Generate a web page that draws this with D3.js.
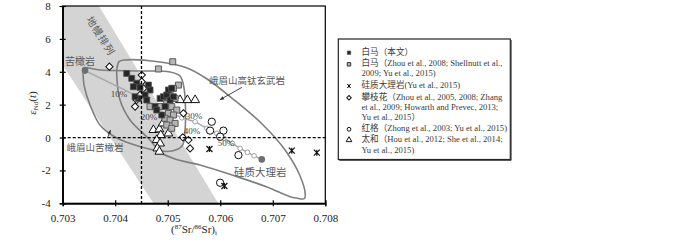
<!DOCTYPE html>
<html><head><meta charset="utf-8">
<script src="https://cdn.jsdelivr.net/npm/d3@7"></script>
<style>
html,body{margin:0;padding:0;background:#fff;}
svg text{font-family:"Liberation Serif","Noto Sans CJK SC",serif;}
.cjk{font-family:"Noto Sans CJK SC","Liberation Serif",sans-serif;}
</style></head>
<body><svg id="c" width="700" height="243"></svg>
<script>
// ---------- data ----------
const xTicks = [0.703, 0.704, 0.705, 0.706, 0.707, 0.708];
const yTicks = [-4, -2, 0, 2, 4, 6, 8];
const xTickLabels = ["0.703", "0.704", "0.705", "0.706", "0.707", "0.708"];
const yTickLabels = ["-4", "-2", "0", "2", "4", "6", "8"];

// mantle array band
const mantleArray = [[0.703, 8], [0.70369, 8], [0.70596, -4], [0.70473, -4], [0.703, 4.4]];

// Emeishan high-Ti basalt field
const highTiField = [[0.704034,4.2],[0.704072,4.62],[0.704187,4.72],[0.704853,4.59],[0.705368,4.23],[0.705749,3.56],[0.706244,2.34],[0.706797,0.82],[0.707234,-0.76],[0.70752,-2.34],[0.70762,-3.5],[0.70760,-3.72],[0.70745,-3.68],[0.70733,-3.6],[0.706891,-3.01],[0.706282,-2.34],[0.705615,-1.67],[0.705139,-1.31],[0.704853,-0.88],[0.704663,-0.15],[0.704282,1.07],[0.704091,2.28],[0.704034,3.5]];
// Emeishan picrite field
const picriteField = [[0.703387,4.23],[0.70371,4.11],[0.704472,4.05],[0.705044,3.99],[0.705234,3.74],[0.70531,3.01],[0.70533,0.46],[0.705272,-0.52],[0.705082,-0.82],[0.704853,-0.82],[0.704434,-0.52],[0.703996,0.03],[0.70371,0.76],[0.70352,1.98],[0.703406,3.19],[0.703387,3.99]];

// end members
const picrite = [0.703425, 4.07];
const marble = [0.70679, -1.33];
// mixing ticks
const mixTicks = [[0.705267,1.20],[0.705521,0.96],[0.705743,0.56],[0.705933,0.25],[0.706073,-0.05],[0.706232,-0.36],[0.706378,-0.66],[0.706517,-0.90],[0.706644,-1.11]];
const mixLabels = ["10%", "20%", "30%", "40%", "50%"];
const mixLabelPos = [[0.704074,2.59],[0.704644,1.19],[0.705501,1.25],[0.705463,0.34],[0.706111,-0.39]];

// samples
const baimaThis = [[0.704219,3.9],[0.704314,3.6],[0.704409,3.3],[0.704346,3.09],[0.704473,3.05],[0.704632,3.19],[0.704663,2.89],[0.704568,2.59],[0.704441,2.38],[0.704378,2.48],[0.7046,2.28],[0.704759,1.88],[0.704854,2.38],[0.704917,2.48],[0.704981,2.59],[0.705013,2.89],[0.705044,2.28],[0.704949,1.88],[0.704886,1.37],[0.70479,1.67],[0.705076,2.99],[0.705108,2.48]];
const baimaLit = [[0.705095,4.61],[0.704822,4.17],[0.705203,3.19],[0.705108,2.99],[0.705044,2.69],[0.70514,2.38],[0.704981,2.08],[0.704854,1.88],[0.704663,1.88],[0.705076,1.88],[0.705171,1.67],[0.705013,1.47],[0.705108,1.37],[0.704949,1.17],[0.705044,1.06],[0.70514,0.86],[0.704981,0.76],[0.705076,0.56]];
const marbleSamples = [[0.705794,-0.70],[0.706079,-2.95],[0.707362,-0.80],[0.707838,-0.92]];
const panzhihua = [[0.703889,4.31],[0.704505,3.8],[0.704505,3.4],[0.704537,2.99],[0.704473,2.6],[0.704409,2.28],[0.704378,1.88],[0.705298,1.47],[0.705286,0.01],[0.705394,-0.15],[0.705425,-0.66]];
const hongge = [[0.705838,0.96],[0.705806,0.42],[0.70606,0.42],[0.705997,0.05],[0.706346,-1.07],[0.705997,-2.75]];
const taihe = [[0.705235,2.28],[0.705375,2.28],[0.705521,2.28],[0.704727,0.46],[0.704841,0.5],[0.704867,0.15],[0.705013,0.25],[0.70479,-0.15],[0.704854,-0.36],[0.704803,-0.66],[0.704841,-0.86],[0.704905,0.86]];

const legendLines = [
  ["白马（本文）", "dark"],
  ["白马（Zhou et al., 2008; Shellnutt et al.,", "gray"],
  ["2009; Yu et al., 2015)", null],
  ["硅质大理岩(Yu et al., 2015)", "star"],
  ["攀枝花（Zhou et al., 2005, 2008;  Zhang", "diamond"],
  ["et al., 2009; Howarth and Prevec, 2013;", null],
  [" Yu et al., 2015）", null],
  ["红格（Zhong et al., 2003; Yu et al., 2015)", "circle"],
  ["太和（Hou et al., 2012; She et al., 2014;", "triangle"],
  ["  Yu et al., 2015)", null]
];

// ---------- drawing ----------
const svg = d3.select("#c");
const X0 = 62.7, X1 = 325.3, Y0 = 203.3, Y1 = 6;
const x = d3.scaleLinear().domain([0.703, 0.708]).range([X0, X1]);
const y = d3.scaleLinear().domain([-4, 8]).range([Y0, Y1]);
const line = d3.line().x(d => x(d[0])).y(d => y(d[1]));
const smooth = d3.line().x(d => x(d[0])).y(d => y(d[1])).curve(d3.curveCatmullRomClosed.alpha(0.5));

const defs = svg.append("defs");
defs.append("clipPath").attr("id","clip").append("rect").attr("x",X0).attr("y",Y1).attr("width",X1-X0).attr("height",Y0-Y1);
defs.append("marker").attr("id","arr").attr("viewBox","0 0 10 10").attr("refX",9).attr("refY",5)
  .attr("markerWidth",5).attr("markerHeight",5).attr("orient","auto")
  .append("path").attr("d","M0,1 L10,5 L0,9 z").attr("fill","#333");

const plot = svg.append("g").attr("clip-path","url(#clip)");
plot.append("path").datum(mantleArray).attr("d", d => line(d) + "Z").attr("fill","#d4d4d4");

// dashed ref lines
svg.append("line").attr("x1",x(0.703)).attr("x2",x(0.708)).attr("y1",y(0)).attr("y2",y(0))
  .attr("stroke","#000").attr("stroke-width",1.3).attr("stroke-dasharray","3,2");
svg.append("line").attr("x1",x(0.7045)).attr("x2",x(0.7045)).attr("y1",y(8)).attr("y2",y(-4))
  .attr("stroke","#000").attr("stroke-width",1.3).attr("stroke-dasharray","3,2");

// fields
plot.append("path").datum(highTiField).attr("d", smooth).attr("fill","none").attr("stroke","#7f7f7f").attr("stroke-width",1.6);
plot.append("path").datum(picriteField).attr("d", smooth).attr("fill","none").attr("stroke","#7f7f7f").attr("stroke-width",1.6);

// mixing line
const mixPath = [picrite].concat(mixTicks).concat([marble]);
plot.append("path").datum(mixPath).attr("d", line).attr("fill","none").attr("stroke","#a6a6a6").attr("stroke-width",1.4);
plot.selectAll(".mt").data(mixTicks).join("circle").attr("cx",d=>x(d[0])).attr("cy",d=>y(d[1])).attr("r",2.3)
  .attr("fill","#fff").attr("stroke","#a0a0a0").attr("stroke-width",1);

// symbols
const sq = d3.symbol().type(d3.symbolSquare).size(36)();
const sqS = d3.symbol().type(d3.symbolSquare).size(12)();
const dia = d3.symbol().type(d3.symbolSquare).size(26)();
const diaS = d3.symbol().type(d3.symbolSquare).size(10)();
const tri = d3.symbol().type(d3.symbolTriangle).size(34)();
const triS = d3.symbol().type(d3.symbolTriangle).size(14)();
const starP = s => `M${-s},${-s}L${s},${s}M${s},${-s}L${-s},${s}M0,${-s}L0,${s}`;

function pts(data, path, fill, stroke, sw, rot) {
  plot.append("g").selectAll("path").data(data).join("path")
    .attr("d", path).attr("transform", d => `translate(${x(d[0])},${y(d[1])})` + (rot ? ` rotate(${rot})` : ""))
    .attr("fill", fill).attr("stroke", stroke).attr("stroke-width", sw);
}
pts(panzhihua, dia, "#fff", "#111", 1, 45);
pts(taihe, tri, "#fff", "#111", 1, 0);
pts(baimaLit, sq, "#b5b5b5", "#595959", 1, 0);
pts(baimaThis, sq, "#262626", "#555", 0.8, 0);
pts(hongge, d3.symbol().type(d3.symbolCircle).size(42)(), "#fff", "#111", 1, 0);
pts(marbleSamples, starP(3), "none", "#111", 1.2, 0);

// end-member dots
plot.selectAll(".em").data([picrite, marble]).join("circle").attr("cx",d=>x(d[0])).attr("cy",d=>y(d[1])).attr("r",3.3).attr("fill","#6e6e6e");

// mix labels
svg.selectAll(".ml").data(mixLabels).join("text").attr("x",(d,i)=>x(mixLabelPos[i][0])).attr("y",(d,i)=>y(mixLabelPos[i][1]))
  .attr("text-anchor","middle").attr("dominant-baseline","middle").attr("font-size",9).attr("fill","#444").text(d=>d);

// annotations
function note(txt, xv, yv, fs, rot) {
  return svg.append("text").attr("class","cjk")
    .attr("transform", `translate(${x(xv)},${y(yv)})` + (rot ? ` rotate(${rot})` : ""))
    .attr("text-anchor","middle").attr("dominant-baseline","middle")
    .attr("font-size",fs).attr("fill","#5a5a5a").text(txt);
}
note("苦橄岩", 0.70333, 4.6, 10);
note("地幔排列", 0.70371, 6.15, 10, 58).attr("letter-spacing",1);
note("峨眉山高钛玄武岩", 0.706511, 3.44, 9.5);
svg.append("line").attr("x1",x(0.706411)).attr("y1",y(3.05)).attr("x2",x(0.705995)).attr("y2",y(2.3)).attr("stroke","#333").attr("stroke-width",0.9).attr("marker-end","url(#arr)");
note("峨眉山苦橄岩", 0.703617, -0.64, 9.5);
svg.append("line").attr("x1",x(0.70385)).attr("y1",y(-0.05)).attr("x2",x(0.70391)).attr("y2",y(0.45)).attr("stroke","#333").attr("stroke-width",0.9).attr("marker-end","url(#arr)");
note("硅质大理岩", 0.70676, -2.16, 10.5);

// frame
svg.append("rect").attr("x",X0).attr("y",Y1).attr("width",X1-X0).attr("height",Y0-Y1).attr("fill","none").attr("stroke","#000").attr("stroke-width",1.2);

// axes
svg.append("g").attr("transform",`translate(0,${Y0})`)
  .call(d3.axisBottom(x).tickValues(xTicks).tickFormat((d,i)=>xTickLabels[i]).tickSize(3).tickPadding(8));
svg.append("g").attr("transform",`translate(0,${Y0})`).call(d3.axisTop(x).tickValues(xTicks).tickFormat("").tickSize(3));
svg.append("g").attr("transform",`translate(${X0},0)`)
  .call(d3.axisLeft(y).tickValues(yTicks).tickFormat(d=>yTickLabels[yTicks.indexOf(d)]).tickSize(3).tickPadding(9));
svg.append("g").attr("transform",`translate(${X0},0)`).call(d3.axisRight(y).tickValues(yTicks).tickFormat("").tickSize(3));
svg.selectAll(".domain").attr("stroke","#000").attr("stroke-width",1.2);
svg.selectAll(".tick line").attr("stroke","#000").attr("stroke-width",1.2);
svg.selectAll(".tick text").attr("font-family","Liberation Serif").attr("font-size",11).attr("fill","#222");

// axis titles
const xt = svg.append("text").attr("x",(X0+X1)/2).attr("y",233).attr("text-anchor","middle").attr("font-size",11).attr("fill","#222");
xt.append("tspan").text("(");
xt.append("tspan").attr("font-size",7).attr("dy",-4).text("87");
xt.append("tspan").attr("dy",4).text("Sr/");
xt.append("tspan").attr("font-size",7).attr("dy",-4).text("86");
xt.append("tspan").attr("dy",4).text("Sr)");
xt.append("tspan").attr("font-size",7).attr("dy",2).text("i");
const yt = svg.append("text").attr("transform","translate(36,103) rotate(-90)").attr("text-anchor","middle").attr("font-size",11).attr("fill","#222");
yt.append("tspan").attr("font-style","italic").text("ε");
yt.append("tspan").attr("font-size",7).attr("dy",2).text("Nd");
yt.append("tspan").attr("dy",-2).text("(");
yt.append("tspan").attr("font-style","italic").text("t");
yt.append("tspan").text(")");

// legend
const LX = 338.3, LY = 39, LW = 172, LH = 120.5;
svg.append("rect").attr("x",LX).attr("y",LY).attr("width",LW).attr("height",LH).attr("fill","#fff").attr("stroke","#222").attr("stroke-width",1.2);
svg.append("path").attr("d",`M${LX+LW+0.8},${LY+1}V${LY+LH+0.8}H${LX+1}`).attr("fill","none").attr("stroke","#333").attr("stroke-width",1);
const lg = svg.append("g");
const lineY = [52.7, 64.3, 74.3, 86, 97.7, 108.3, 118.3, 129.3, 140, 151];
legendLines.forEach((l, i) => {
  lg.append("text").attr("x", 361.5).attr("y", lineY[i]).attr("dominant-baseline","middle").attr("font-size",8.6).attr("fill","#3a3a3a").text(l[0]);
  const mx = 349, my = lineY[i];
  const t = l[1];
  if (t === "dark") lg.append("path").attr("d",sqS).attr("transform",`translate(${mx},${my})`).attr("fill","#262626").attr("stroke","#555").attr("stroke-width",0.6);
  if (t === "gray") lg.append("path").attr("d",sqS).attr("transform",`translate(${mx},${my})`).attr("fill","#b5b5b5").attr("stroke","#333").attr("stroke-width",1);
  if (t === "star") lg.append("path").attr("d",starP(1.8)).attr("transform",`translate(${mx},${my})`).attr("fill","none").attr("stroke","#111").attr("stroke-width",1);
  if (t === "diamond") lg.append("path").attr("d",diaS).attr("transform",`translate(${mx},${my}) rotate(45)`).attr("fill","#fff").attr("stroke","#111").attr("stroke-width",1);
  if (t === "circle") lg.append("circle").attr("cx",mx).attr("cy",my).attr("r",1.9).attr("fill","#fff").attr("stroke","#111").attr("stroke-width",1);
  if (t === "triangle") lg.append("path").attr("d",triS).attr("transform",`translate(${mx},${my})`).attr("fill","#fff").attr("stroke","#111").attr("stroke-width",1);
});
</script></body></html>
